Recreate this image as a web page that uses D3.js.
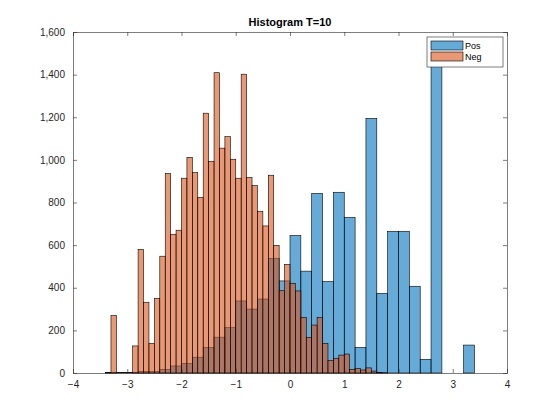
<!DOCTYPE html>
<html>
<head>
<meta charset="utf-8">
<script src="https://cdn.jsdelivr.net/npm/d3@7"></script>
<style>
  body { margin: 0; background: #fff; }
  text { font-family: "Liberation Sans", Arial, sans-serif; }
</style>
</head>
<body>
<div id="chart"></div>
<script>
// Pos: bin width 0.2 starting at -3.4
const posStart = -3.4, posWidth = 0.2;
const posCounts = [2, 2, 3, 8, 8, 17, 33, 45, 74, 120, 168, 213, 338, 300, 347, 538, 432,
  645, 478, 843, 429, 848, 730, 120, 1195, 374, 665, 665, 407, 64, 1570, 0, 0, 131];
// Neg: bin width 0.1 starting at -3.4
const negStart = -3.4, negWidth = 0.1;
const negCounts = [3, 269, 0, 0, 0,
  127, 580, 332, 139, 350, 548, 937, 651, 670, 914, 1012, 940, 824, 1219, 993, 1409, 1055,
  1109, 1003, 914, 1402, 918, 879, 759, 690, 928, 599, 386, 510,
  421, 385, 261, 167, 225, 261, 139, 58, 69, 84, 89, 17, 22, 14, 24, 9, 2, 1];
const xTicks = [-4, -3, -2, -1, 0, 1, 2, 3, 4];
const yTicks = [0, 200, 400, 600, 800, 1000, 1200, 1400, 1600];
const seriesNames = ["Pos", "Neg"];
const colors = ["#0072BD", "#D95319"];

const W = 560, H = 420;
const m = { left: 73, right: 53, top: 32, bottom: 47 };
const svg = d3.select("#chart").append("svg").attr("width", W).attr("height", H);

const x = d3.scaleLinear().domain([-4, 4]).range([m.left, W - m.right]);
const y = d3.scaleLinear().domain([0, 1600]).range([H - m.bottom, m.top]);

const drawBars = (counts, start, width, color) => {
  svg.append("g").selectAll("rect")
    .data(counts.map((c, i) => ({ x0: start + i * width, c })).filter(d => d.c > 0))
    .join("rect")
    .attr("x", d => x(d.x0))
    .attr("width", d => x(d.x0 + width) - x(d.x0))
    .attr("y", d => y(d.c))
    .attr("height", d => y(0) - y(d.c))
    .attr("fill", color)
    .attr("fill-opacity", 0.6)
    .attr("stroke", "#000")
    .attr("stroke-width", 0.6);
};
drawBars(posCounts, posStart, posWidth, colors[0]);
drawBars(negCounts, negStart, negWidth, colors[1]);

// axes (MATLAB box style, ticks inward)
const tick = 4;
const axB = svg.append("g").attr("transform", `translate(0,${y(0)})`)
  .call(d3.axisBottom(x).tickValues(xTicks).tickSizeInner(-tick).tickSizeOuter(0).tickPadding(8));
const axT = svg.append("g").attr("transform", `translate(0,${m.top})`)
  .call(d3.axisTop(x).tickValues(xTicks).tickSizeInner(-tick).tickSizeOuter(0).tickFormat(""));
const axL = svg.append("g").attr("transform", `translate(${m.left},0)`)
  .call(d3.axisLeft(y).tickValues(yTicks).tickSizeInner(-tick).tickSizeOuter(0).tickPadding(8));
const axR = svg.append("g").attr("transform", `translate(${W - m.right},0)`)
  .call(d3.axisRight(y).tickValues(yTicks).tickSizeInner(-tick).tickSizeOuter(0).tickFormat(""));
[axB, axT, axL, axR].forEach(a => {
  a.selectAll("path,line").attr("stroke", "#262626").attr("stroke-width", 0.6);
  a.selectAll("text").attr("font-size", 10).attr("fill", "#262626")
    .style("font-family", "Liberation Sans, Arial, sans-serif");
});

svg.append("text").attr("x", (m.left + W - m.right) / 2).attr("y", m.top - 6)
  .attr("text-anchor", "middle").attr("font-size", 11).attr("font-weight", "bold")
  .attr("fill", "#000").text("Histogram T=10");

// legend
const lg = svg.append("g").attr("transform", `translate(${W - m.right - 80},${m.top + 5})`);
lg.append("rect").attr("width", 76).attr("height", 30).attr("fill", "#fff")
  .attr("stroke", "#262626").attr("stroke-width", 0.6);
seriesNames.forEach((n, i) => {
  lg.append("rect").attr("x", 4).attr("y", 4 + i * 11).attr("width", 32).attr("height", 9)
    .attr("fill", colors[i]).attr("fill-opacity", 0.6).attr("stroke", "#000").attr("stroke-width", 0.6);
  lg.append("text").attr("x", 38).attr("y", 12 + i * 11).attr("font-size", 9).text(n);
});
</script>
</body>
</html>
